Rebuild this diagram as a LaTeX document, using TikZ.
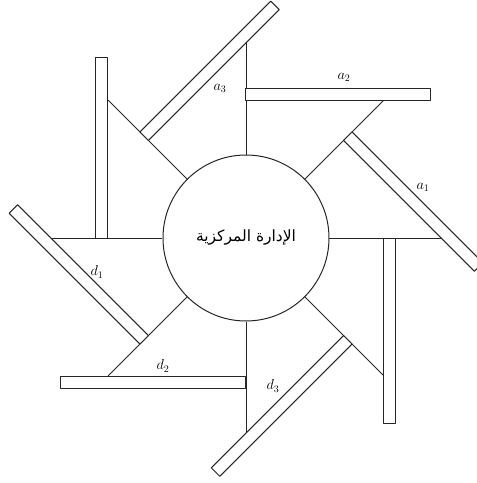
\documentclass[tikz,border=0pt]{standalone}
\usepackage{fontspec}
\newfontfamily\arabicfont[Script=Arabic]{DejaVu Sans}
\TeXXeTstate=1
\usepackage{amsmath}
\usetikzlibrary{positioning,calc}

\tikzset{
  bar/.style={draw,fill=white,line width=1pt},
  spoke/.style={line width=0.9pt},
  lbl/.style={font=\Large,inner sep=0pt}
}

\begin{document}
\begin{tikzpicture}[x=1pt,y=1pt,line join=round,draw=black!85]
\useasboundingbox (-246,-245) rectangle (231,238);
\node[draw,circle,line width=1pt,minimum size=166pt,inner sep=0pt] (hub) at (0,0)
  {\arabicfont\fontsize{15.5}{17}\selectfont\beginR الإدارة المركزية\endR};
% spokes
\draw[spoke] (hub.0) -- (0:195);
\draw[spoke] (hub.45) -- (45:195);
\draw[spoke] (hub.90) -- (90:195);
\draw[spoke] (hub.135) -- (135:195);
\draw[spoke] (hub.180) -- (180:195);
\draw[spoke] (hub.225) -- (225:195);
\draw[spoke] (hub.270) -- (270:195);
\draw[spoke] (hub.315) -- (315:195);
% bars
\draw[bar] (0:138) -- (0:150) -- ++(-90:185) -- ++(180:12) -- cycle;
\draw[bar] (45:138) -- (45:150) -- ++(-45:185) -- ++(225:12) -- cycle;
\draw[bar] (90:138) -- (90:150) -- ++(0:185) -- ++(270:12) -- cycle;
\draw[bar] (135:138) -- (135:150) -- ++(45:185) -- ++(315:12) -- cycle;
\draw[bar] (180:138) -- (180:150) -- ++(90:181) -- ++(0:12) -- cycle;
\draw[bar] (225:138) -- (225:150) -- ++(135:185) -- ++(45:12) -- cycle;
\draw[bar] (270:138) -- (270:150) -- ++(180:185) -- ++(90:12) -- cycle;
\draw[bar] (315:138) -- (315:150) -- ++(225:187) -- ++(135:12) -- cycle;
% labels
\node[lbl] (la1) at (177,51) {$a_1$};
\node[lbl] (la2) at (98,161) {$a_2$};
\node[lbl] (la3) at (-26,150) {$a_3$};
\node[lbl] (ld1) at (-149,-34) {$d_1$};
\node[lbl] (ld2) at (-83,-128) {$d_2$};
\node[lbl] (ld3) at (27,-148) {$d_3$};
\end{tikzpicture}
\end{document}
